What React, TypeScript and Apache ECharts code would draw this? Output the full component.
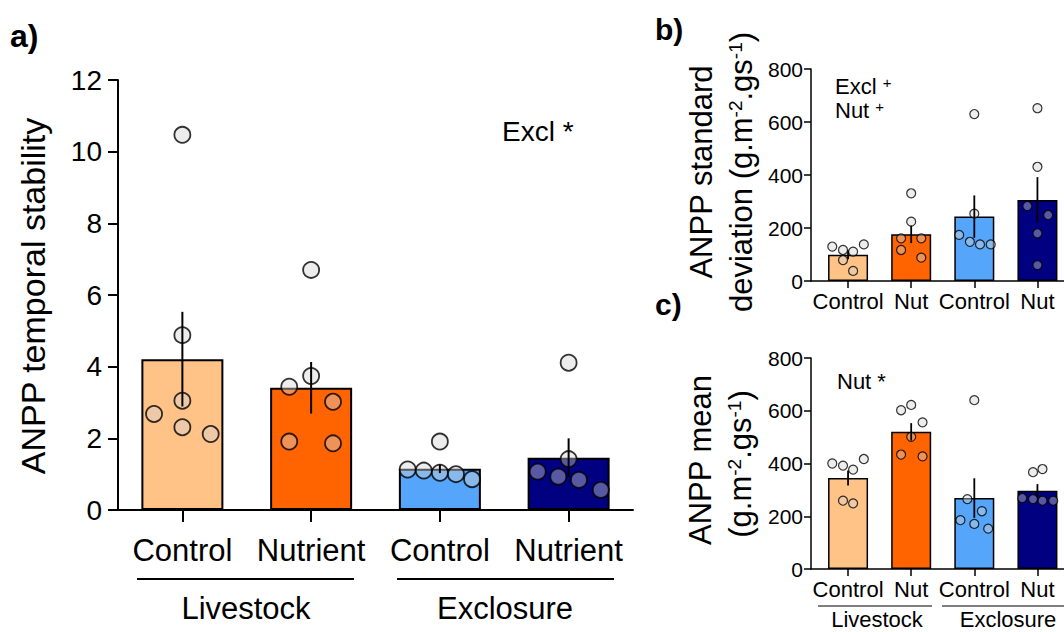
import React, { useEffect, useRef } from "react";
import * as echarts from "echarts";

// ---------- data ----------
const labelsA = ["Control", "Nutrient", "Control", "Nutrient"];
const labelsBC = ["Control", "Nut", "Control", "Nut"];
const groups = ["Livestock", "Exclosure"];
const barColors = ["#ffc287", "#ff6400", "#55a5fa", "#000080"];

// a) ANPP temporal stability
const stabMean = [4.21, 3.41, 1.15, 1.46];
const stabSE = [1.32, 0.72, 0.12, 0.54];
const stabPoints = [
  [10.47, 4.88, 3.05, 2.68, 2.31, 2.12],
  [6.7, 3.74, 3.44, 3.02, 1.91, 1.86],
  [1.91, 1.13, 1.1, 1.04, 1.0, 0.86],
  [4.11, 1.42, 1.07, 0.93, 0.84, 0.56],
];
const stabJitter = [
  [0, 0, 0, -0.22, 0, 0.22],
  [0, 0, -0.17, 0.17, -0.17, 0.17],
  [0, -0.25, -0.125, 0, 0.125, 0.25],
  [0, 0, -0.24, -0.08, 0.08, 0.25],
];
const stabTicks = [0, 2, 4, 6, 8, 10, 12];

// b) ANPP standard deviation
const sdMean = [99, 176, 243, 306];
const sdSE = [17, 33, 80, 86];
const sdPoints = [
  [130, 117, 111, 138, 79, 38],
  [331, 224, 161, 161, 117, 88],
  [630, 254, 174, 148, 138, 138],
  [652, 431, 283, 249, 180, 60],
];
const sdJitter = [
  [-0.25, -0.08, 0.08, 0.25, -0.08, 0.08],
  [0, 0, -0.16, 0.16, -0.16, 0.16],
  [0, 0, -0.24, -0.07, 0.09, 0.26],
  [0, 0, -0.16, 0.17, 0, 0],
];

// c) ANPP mean
const mnMean = [345, 520, 269, 297];
const mnSE = [28, 33, 75, 25];
const mnPoints = [
  [400, 392, 377, 417, 259, 249],
  [602, 622, 556, 501, 434, 427],
  [640, 265, 219, 185, 171, 153],
  [367, 379, 269, 265, 259, 259],
];
const mnJitter = [
  [-0.25, -0.08, 0.08, 0.25, -0.08, 0.08],
  [-0.16, 0, 0.18, 0, -0.16, 0.18],
  [0, -0.11, 0.12, -0.22, 0, 0.22],
  [-0.07, 0.08, -0.24, -0.07, 0.08, 0.25],
];
const bcTicks = [0, 200, 400, 600, 800];

// ---------- helpers ----------
const FONT = "Liberation Sans, Arial, Helvetica, sans-serif";
const catIdx = [0, 1, 2, 3];

function xAxisDef(gridIndex: number, min: number, max: number, names: string[], fontSize: number, margin: number, tickLen: number, lw: number) {
  return {
    type: "value",
    gridIndex,
    min,
    max,
    splitLine: { show: false },
    axisLine: { show: true, onZero: false, lineStyle: { color: "#000", width: lw } },
    axisTick: { show: true, customValues: catIdx, length: tickLen, lineStyle: { color: "#000", width: lw } },
    axisLabel: {
      show: true,
      customValues: catIdx,
      formatter: (v: number) => names[Math.round(v)] ?? "",
      color: "#000",
      fontSize,
      fontFamily: FONT,
      margin,
    },
  };
}

function yAxisDef(gridIndex: number, ticks: number[], fontSize: number, margin: number, tickLen: number, lw: number) {
  return {
    type: "value",
    gridIndex,
    min: ticks[0],
    max: ticks[ticks.length - 1],
    interval: ticks[1] - ticks[0],
    splitLine: { show: false },
    axisLine: { show: true, onZero: false, lineStyle: { color: "#000", width: lw } },
    axisTick: { show: true, length: tickLen, lineStyle: { color: "#000", width: lw } },
    axisLabel: { color: "#000", fontSize, fontFamily: FONT, margin },
  };
}

function panelSeries(idx: number, means: number[], se: number[], pts: number[][], jit: number[][], barW: number, barBorder: number, sym: number, symBorder: number, errW: number) {
  return [
    {
      type: "bar",
      xAxisIndex: idx,
      yAxisIndex: idx,
      barWidth: barW,
      z: 2,
      data: means.map((m, i) => ({
        value: [i, m],
        itemStyle: { color: barColors[i], borderColor: "#000", borderWidth: barBorder },
      })),
    },
    {
      type: "scatter",
      xAxisIndex: idx,
      yAxisIndex: idx,
      symbol: "circle",
      symbolSize: sym,
      z: 3,
      itemStyle: { color: "rgba(211,211,211,0.52)", borderColor: "#000", borderWidth: symBorder },
      data: pts.flatMap((vals, i) => vals.map((v, j) => [i + jit[i][j], v])),
    },
    {
      type: "custom",
      xAxisIndex: idx,
      yAxisIndex: idx,
      z: 4,
      encode: { x: 0, y: [1, 2] },
      data: means.map((m, i) => [i, m - se[i], m + se[i]]),
      renderItem: (params: any, api: any) => {
        const p1 = api.coord([api.value(0), api.value(1)]);
        const p2 = api.coord([api.value(0), api.value(2)]);
        return {
          type: "line",
          shape: { x1: p1[0], y1: p1[1], x2: p2[0], y2: p2[1] },
          style: { stroke: "#000", lineWidth: errW },
        };
      },
    },
  ];
}

function txt(text: string, x: number, y: number, fontSize: number, opts: any = {}) {
  return {
    type: "text",
    x,
    y,
    rotation: opts.rotation ?? 0,
    style: {
      text,
      fontSize,
      fontFamily: FONT,
      fontWeight: opts.bold ? "bold" : "normal",
      fill: "#000",
      align: opts.align ?? "center",
      verticalAlign: "middle",
      rich: opts.rich,
    },
  };
}

function hline(x1: number, x2: number, y: number, w: number) {
  return { type: "line", shape: { x1, y1: y, x2, y2: y }, style: { stroke: "#000", lineWidth: w } };
}

export default function App() {
  const ref = useRef<HTMLDivElement>(null);
  useEffect(() => {
    if (!ref.current) return;
    const chart = echarts.init(ref.current, null, { renderer: "svg" });
    const supRich = (size: number) => ({ sup: { fontSize: size, fontFamily: FONT, verticalAlign: "top", fill: "#000" } });
    const option: any = {
      animation: false,
      backgroundColor: "#fff",
      grid: [
        { left: 118, top: 80, width: 515, height: 430, outerBoundsMode: "none" },
        { left: 811, top: 69, width: 258, height: 212, outerBoundsMode: "none" },
        { left: 811, top: 358, width: 258, height: 211, outerBoundsMode: "none" },
      ],
      xAxis: [
        xAxisDef(0, -0.5, 3.5, labelsA, 31, 25, 12, 2),
        xAxisDef(1, -0.587, 3.5, labelsBC, 22, 9, 7, 1.5),
        xAxisDef(2, -0.587, 3.5, labelsBC, 22, 9, 7, 1.5),
      ],
      yAxis: [
        yAxisDef(0, stabTicks, 28, 16, 10, 2),
        yAxisDef(1, bcTicks, 21, 8, 7, 1.5),
        yAxisDef(2, bcTicks, 21, 8, 7, 1.5),
      ],
      series: [
        ...panelSeries(0, stabMean, stabSE, stabPoints, stabJitter, 82, 2, 16, 1.8, 2),
        ...panelSeries(1, sdMean, sdSE, sdPoints, sdJitter, 40, 1.5, 9, 1.2, 1.8),
        ...panelSeries(2, mnMean, mnSE, mnPoints, mnJitter, 40, 1.5, 9, 1.2, 1.8),
      ],
      graphic: [
        // panel labels
        txt("a)", 10, 36, 32, { bold: true, align: "left" }),
        txt("b)", 655, 29, 30, { bold: true, align: "left" }),
        txt("c)", 655, 304, 30, { bold: true, align: "left" }),
        // axis titles
        txt("ANPP temporal stability", 33, 296, 34, { rotation: Math.PI / 2 }),
        txt("ANPP standard", 701, 172, 31, { rotation: Math.PI / 2 }),
        txt("deviation (g.m{sup|-2}.gs{sup|-1})", 741, 172, 31, { rotation: Math.PI / 2, rich: supRich(19) }),
        txt("ANPP mean", 700, 460, 31, { rotation: Math.PI / 2 }),
        txt("(g.m{sup|-2}.gs{sup|-1})", 740, 464, 31, { rotation: Math.PI / 2, rich: supRich(19) }),
        // significance annotations
        txt("Excl *", 502, 131, 28, { align: "left" }),
        txt("Excl {sup|+}", 835, 86, 22, { align: "left", rich: supRich(15) }),
        txt("Nut {sup|+}", 835, 110, 22, { align: "left", rich: supRich(15) }),
        txt("Nut *", 837, 381, 22, { align: "left" }),
        // group brackets a
        hline(137, 354, 579, 2),
        hline(397, 614, 579, 2),
        txt(groups[0], 246, 608, 31),
        txt(groups[1], 505, 608, 31),
        // group brackets c
        hline(818, 932, 606, 1.2),
        hline(942, 1064, 606, 1.2),
        txt(groups[0], 877, 619, 22),
        txt(groups[1], 1008, 619, 22),
      ],
    };
    chart.setOption(option);
    return () => chart.dispose();
  }, []);
  return (
    <div
      ref={ref}
      style={{ position: "fixed", left: 0, top: 0, width: 1064, height: 632, background: "#fff" }}
    />
  );
}
